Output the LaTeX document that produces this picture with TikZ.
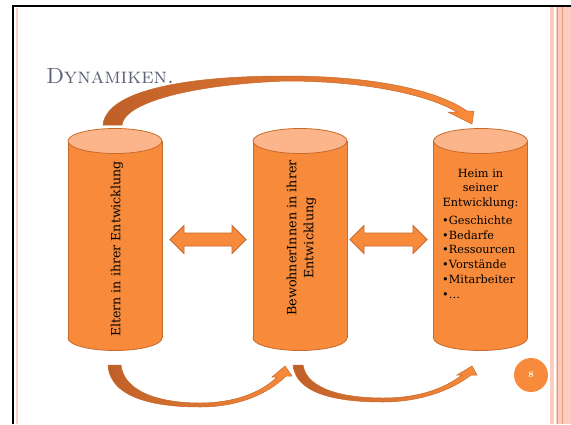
\documentclass[tikz,border=0pt]{standalone}
\usepackage{fontspec}
\usepackage{tikz}
\newfontfamily\cylfont{DejaVu Serif}
\definecolor{orbody}{HTML}{F88B3B}
\definecolor{orend}{HTML}{FCB58A}
\definecolor{orline}{HTML}{C8692C}
\definecolor{ardark}{HTML}{BF5F28}
\definecolor{titlecol}{HTML}{5C6274}
\definecolor{stripe}{HTML}{F9CDBF}
\definecolor{stripeline}{HTML}{E8957A}
\definecolor{pinkline}{HTML}{FAD2C8}
\tikzset{
  cylbody/.style={fill=orbody},
  cylline/.style={draw=orline, line width=0.8pt},
  cylend/.style={fill=orend, draw=orline, line width=0.8pt},
  blockarrow/.style={fill=orbody, draw=orline, line width=0.8pt, line join=miter},
  curvedarrow/.style={left color=ardark, right color=orbody, draw=orline, line width=0.5pt},
  cyltext/.style={inner sep=0pt, text=black},
}
\begin{document}
\begin{tikzpicture}[x=1pt,y=-1pt]
\useasboundingbox (0,0) rectangle (571,424);
% frame
\fill[white] (0,0) rectangle (571,424);
\fill[stripe] (550,6) rectangle (571,424);
\fill[white] (553.5,6) rectangle (555.5,424);
\draw[stripeline, line width=0.7pt] (557.5,6) -- (557.5,424);
\draw[stripeline, line width=0.7pt] (562,6) -- (562,424);
\draw[pinkline, line width=1.2pt] (17,8) -- (17,424);
\draw[black, line width=2pt] (13,424) -- (13,6) -- (571,6);

% title
\node[anchor=base west, inner sep=0pt, text=titlecol, font=\fontsize{22}{26}\selectfont] (title) at (46,83) {\textsc{Dynamiken.}};

% cylinders: left (c=115), middle (c=300), right (c=480.5)
\foreach \c/\nm in {115/eltern, 300/bewohner, 480.5/heim}{
  \fill[cylbody] (\c,338) ellipse[x radius=47, y radius=12.5];
  \draw[cylline] (\c,338) ellipse[x radius=47, y radius=12.5];
  \fill[cylbody] (\c-47,141) rectangle (\c+47,338);
  \draw[cylline] (\c-47,141) -- (\c-47,338);
  \draw[cylline] (\c+47,141) -- (\c+47,338);
  \filldraw[cylend] (\c,141) ellipse[x radius=47, y radius=12.5];
  \node[inner sep=0pt, minimum width=94pt, minimum height=222pt] (\nm) at (\c,239.5) {};
}

% cylinder texts
\node[cyltext, rotate=90, font=\cylfont\fontsize{12.6}{15}\selectfont] (elterntext) at (117,249) {Eltern in ihrer Entwicklung};
\node[cyltext, rotate=90, align=center, font=\cylfont\fontsize{12.8}{17}\selectfont] (bewohnertext) at (301.5,238) {BewohnerInnen in ihrer\\Entwicklung};
\node[cyltext, align=center, font=\cylfont\fontsize{11.3}{14.8}\selectfont] (heimhead) at (480.5,189) {Heim in\\seiner\\Entwicklung:};
\node[cyltext, align=left, anchor=west, font=\cylfont\fontsize{11.3}{14.8}\selectfont] (heimlist) at (442,257) {•Geschichte\\•Bedarfe\\•Ressourcen\\•Vorstände\\•Mitarbeiter\\•…};

% double arrows
\draw[blockarrow] (170,239.5) -- (184,225.5) -- (184,233) -- (232,233) -- (232,225.5) -- (246,239.5) -- (232,253.5) -- (232,246) -- (184,246) -- (184,253.5) -- cycle;
\draw[blockarrow] (350,239.5) -- (364,225.5) -- (364,233) -- (413,233) -- (413,225.5) -- (427,239.5) -- (413,253.5) -- (413,246) -- (364,246) -- (364,253.5) -- cycle;

% top curved arrow (eltern -> heim)
\shadedraw[curvedarrow] (103,125) .. controls (106,92) and (180,76) .. (285,76) .. controls (380,76) and (440,92) .. (467,111) -- (474,111) -- (472,124) -- (448,112) -- (457,112) .. controls (430,96) and (370,81) .. (285,81) .. controls (185,85) and (124,104) .. (122,125) -- cycle;

% bottom curved arrow 1 (eltern -> bewohner)
\shadedraw[curvedarrow] (108,365) .. controls (110,400) and (160,407) .. (200,407) .. controls (238,407) and (268,394) .. (286,376) -- (292,376) -- (285,366) -- (272,377) -- (277,377) .. controls (262,392) and (235,403) .. (200,403) .. controls (160,403) and (124,392) .. (121,365) -- cycle;

% bottom curved arrow 2 (bewohner -> heim)
\shadedraw[curvedarrow] (293,365) .. controls (296,395) and (340,402) .. (383,402) .. controls (420,402) and (452,390) .. (471,375) -- (477,375) -- (472,366) -- (457,375) -- (462,375) .. controls (445,388) and (420,398) .. (383,398) .. controls (345,398) and (307,390) .. (303,365) -- cycle;

% page number
\fill[orbody] (531,375) circle[radius=17];
\node[inner sep=0pt, text=white, font=\fontsize{9}{10}\selectfont\bfseries] (pagenum) at (531,375) {8};
\end{tikzpicture}
\end{document}
